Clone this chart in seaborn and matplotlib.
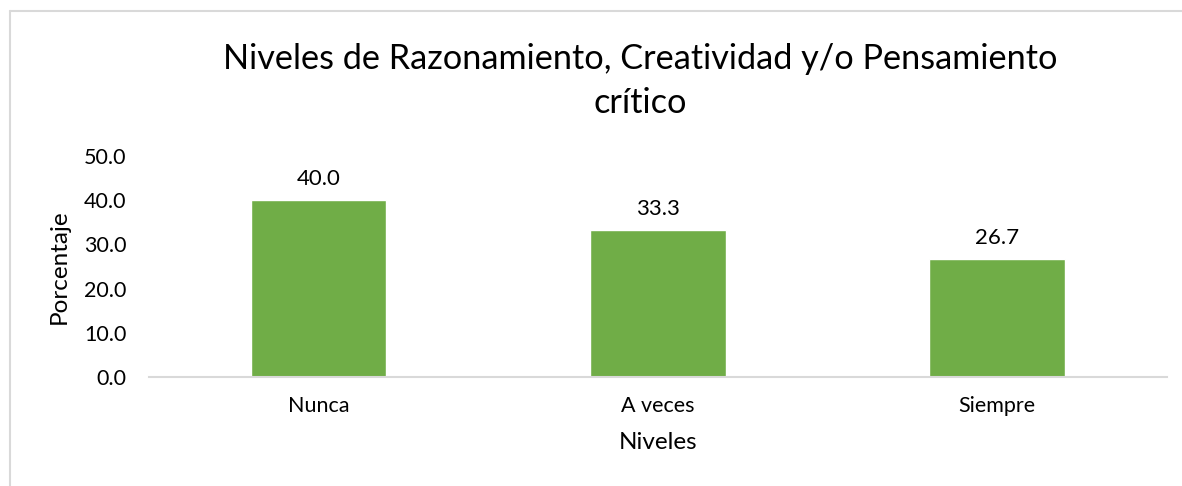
import matplotlib.pyplot as plt
import seaborn as sns
import pandas as pd
from matplotlib.lines import Line2D

# data
niveles = ["Nunca", "A veces", "Siempre"]
porcentaje = [40.0, 33.3, 26.7]

title = "Niveles de Razonamiento, Creatividad y/o Pensamiento\ncrítico"
bar_color = "#70AD47"
line_color = "#D9D9D9"

sns.set_theme(style="white")
plt.rcParams["font.family"] = ["Lato", "DejaVu Sans"]

df = pd.DataFrame({"Niveles": niveles, "Porcentaje": porcentaje})

fig = plt.figure(figsize=(11.82, 4.86), dpi=100)
ax = fig.add_axes([0.126, 0.2243, 0.861, 0.4547])

sns.barplot(data=df, x="Niveles", y="Porcentaje", color=bar_color,
            width=0.4, saturation=1, ax=ax)

ax.set_ylim(0, 50)
ax.set_yticks([0, 10, 20, 30, 40, 50])
ax.set_yticklabels([f"{v:.1f}" for v in [0, 10, 20, 30, 40, 50]])
ax.set_xlim(-0.5, 2.5)

for side in ["top", "right", "left"]:
    ax.spines[side].set_visible(False)
ax.spines["bottom"].set_color(line_color)
ax.spines["bottom"].set_linewidth(1.5)

ax.tick_params(axis="y", length=0, pad=16, labelsize=15.5, labelcolor="#000000")
ax.tick_params(axis="x", length=0, pad=14, labelsize=15.5, labelcolor="#000000")

ax.bar_label(ax.containers[0], fmt="%.1f", padding=8, fontsize=16, color="#000000")

ax.set_xlabel("Niveles", fontsize=17.5, color="#000000", va="top")
ax.set_ylabel("Porcentaje", fontsize=17.5, color="#000000")
ax.xaxis.set_label_coords(0.5, -0.25)
ax.yaxis.set_label_coords(-0.078, 0.5)

fig.text(0.5415, 0.834, title, ha="center", va="center", fontsize=24.7,
         color="#000000", linespacing=1.45)

# chart frame (only top and left edges visible in the crop)
fig.add_artist(Line2D([10 / 1182, 10 / 1182], [0, 1 - 11 / 486],
                      transform=fig.transFigure, color=line_color, lw=1.5))
fig.add_artist(Line2D([10 / 1182, 1], [1 - 11 / 486, 1 - 11 / 486],
                      transform=fig.transFigure, color=line_color, lw=1.5))

fig.savefig("out.png", dpi=100, facecolor="white")
